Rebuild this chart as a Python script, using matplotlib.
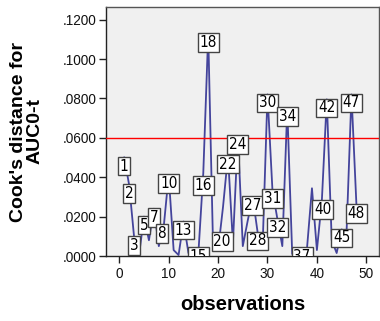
import matplotlib
matplotlib.use("Agg")
import matplotlib.pyplot as plt
from matplotlib.ticker import FuncFormatter

# ---- data ----
observations = list(range(1, 49))
cooks_d = [0.050, 0.036, 0.0095, 0.0005, 0.020, 0.008, 0.024, 0.005, 0.015, 0.041,
           0.003, 0.0005, 0.0175, 0.0015, 0.001, 0.001, 0.042, 0.1127, 0.003, 0.003,
           0.025, 0.051, 0.0065, 0.061, 0.005, 0.018, 0.030, 0.012, 0.004, 0.082,
           0.0335, 0.0188, 0.005, 0.075, 0.001, 0.002, 0.004, 0.004, 0.0344, 0.003,
           0.028, 0.0795, 0.008, 0.0015, 0.0135, 0.012, 0.082, 0.026]
labeled = [1, 2, 3, 5, 7, 8, 10, 13, 15, 16, 18, 20, 22, 24, 27, 28, 30, 31, 32,
           34, 37, 40, 42, 45, 47, 48]
threshold = 0.06
x_ticks = [0, 10, 20, 30, 40, 50]
y_ticks = [0.0, 0.02, 0.04, 0.06, 0.08, 0.10, 0.12]
x_title = "observations"
y_title = "Cook's distance for\nAUC0-t"

# label placement nudges (pixels), styling only
label_nudge = {8: (3, 21), 15: (5, 6), 16: (5, 77), 20: (4, 17), 40: (6, 49)}

fig = plt.figure(figsize=(3.8, 3.21), dpi=100)
ax = fig.add_axes([106 / 380, 1 - 256 / 321, (379 - 106) / 380, (256 - 7) / 321])
ax.set_facecolor("#F0F0F0")

ax.plot(observations, cooks_d, color="#44449C", lw=1.3, zorder=2)
ax.axhline(threshold, color="#FF0000", lw=1.0, zorder=3)

narrow = ["Liberation Sans Narrow", "DejaVu Sans"]
for obs in labeled:
    yv = cooks_d[obs - 1]
    dx, dy = label_nudge.get(obs, (0, 0))
    ax.annotate(str(obs), xy=(obs, yv), xytext=(dx, dy - 1),
                textcoords="offset pixels", ha="center", va="top",
                fontsize=11, family=narrow, fontstretch="condensed",
                color="black", zorder=4, annotation_clip=False, clip_on=True,
                bbox=dict(boxstyle="square,pad=0.12", fc="white", ec="#444444", lw=1.0))

ax.set_xlim(-2.69, 52.57)
ax.set_ylim(0, 0.1264)
ax.set_xticks(x_ticks)
ax.set_yticks(y_ticks)
ax.yaxis.set_major_formatter(FuncFormatter(lambda v, p: f"{v:.4f}".lstrip("0") if v != 0 else ".0000"))

for sp in ax.spines.values():
    sp.set_color("#555555")
    sp.set_linewidth(1.0)
ax.spines["left"].set_color("#222222")
ax.spines["bottom"].set_color("#222222")

ax.tick_params(axis="both", direction="out", length=5, width=1.0, color="#222222",
               labelsize=9.8, labelcolor="#111111")
ax.tick_params(axis="y", pad=1.5)
ax.tick_params(axis="x", pad=3)
for t in ax.get_xticklabels() + ax.get_yticklabels():
    t.set_family("Liberation Sans")

ax.set_xlabel(x_title, fontsize=14.5, fontweight="bold", family="Liberation Sans", labelpad=10)
ax.set_ylabel(y_title, fontsize=14, fontweight="bold", family="Liberation Sans", labelpad=14,
              linespacing=1.0)

fig.savefig("out.png", dpi=100)
